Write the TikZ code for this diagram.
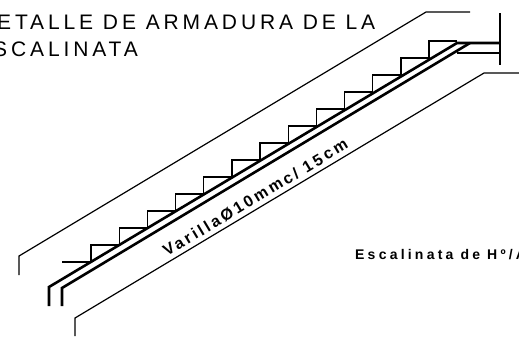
\documentclass[tikz,border=0pt]{standalone}
\usepackage{fontspec}
\setmainfont{Liberation Sans}
\newfontfamily\titlefont[LetterSpace=18.5]{Liberation Sans}
\newfontfamily\labelfont[LetterSpace=17.5]{Liberation Sans Bold}
\newfontfamily\notefont[LetterSpace=23]{Liberation Sans Bold}
\usetikzlibrary{positioning}
\tikzset{
    outline/.style={line width=1.2pt},
    bar/.style={line width=2.6pt},
    stepline/.style={line width=1.3pt},
}

\begin{document}
\begin{tikzpicture}[x=1pt,y=-1pt]
        \useasboundingbox (0,0) rectangle (519,340);
        % title, cut by the page on the left
        \node[anchor=base west,inner sep=0pt] (title1) at (-3,29) {\titlefont\fontsize{21}{21}\selectfont ETALLE DE ARMADURA DE LA};
        \node[anchor=base west,inner sep=0pt] (title2) at (-7,56) {\titlefont\fontsize{21}{21}\selectfont SCALINATA};
        % outer lines
        \draw[outline] (19,275) -- (19,256) -- (426,12) -- (470,12);
        \draw[outline] (75,336) -- (75,318) -- (484,73) -- (519,73);
        % bars
        \draw[bar] (49,306) -- (49,287) -- (457,43) -- (500,43);
        \draw[bar] (62,306) -- (62,288) -- (470,43);
        \draw[outline] (457,53) -- (500,53);
        \draw[outline] (500,13) -- (500,65);
        % steps
        \draw[stepline] (62,262) -- (91,262);
        \foreach \i in {0,...,12}
            \draw[stepline] (91+28.17*\i,262-17*\i) -- (91+28.17*\i,245-17*\i) -- (119.17+28.17*\i,245-17*\i);
        \node[rotate=31,anchor=base west,inner sep=0pt] (bartext) at (167,257) {\labelfont\fontsize{16}{16}\selectfont VarillaØ10mmc/ 15cm};
        \node[anchor=base west,inner sep=0pt] (stairnote) at (355,259) {\notefont\fontsize{14}{14}\selectfont Escalinata de Hº/A};
\end{tikzpicture}
\end{document}
